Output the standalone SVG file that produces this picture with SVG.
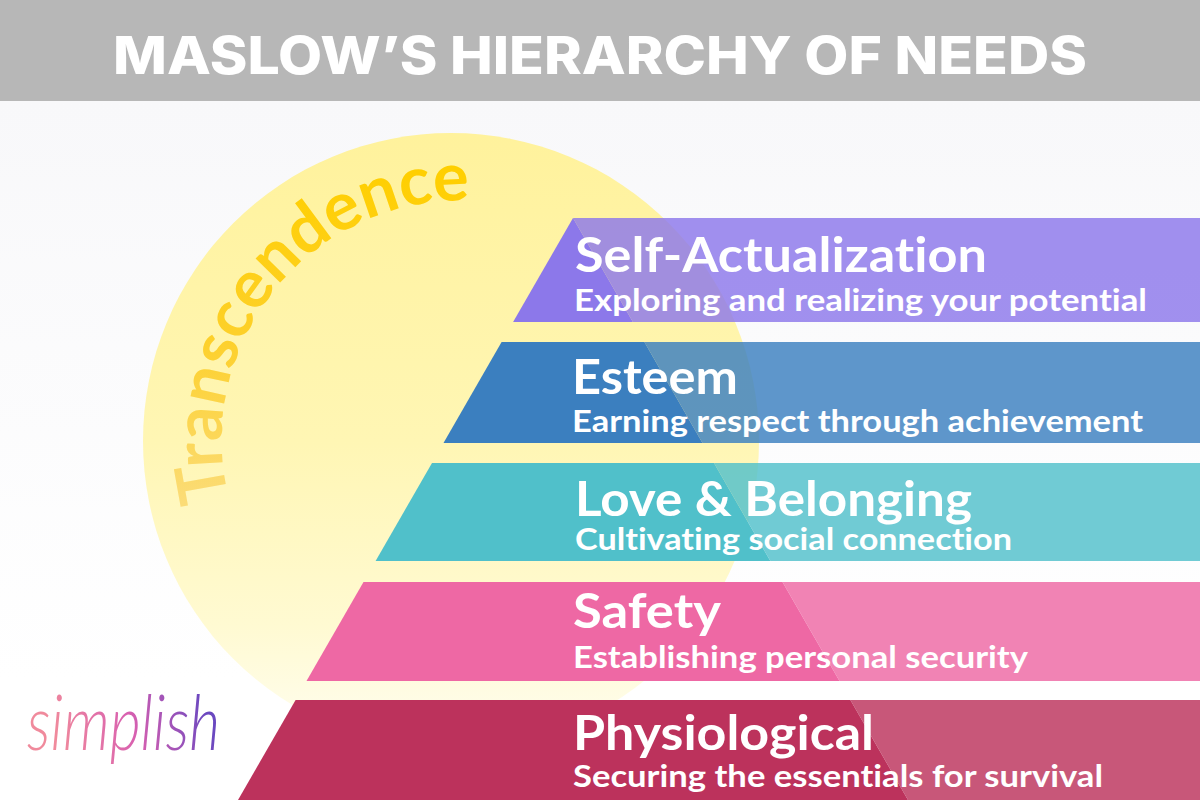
<svg xmlns="http://www.w3.org/2000/svg" xmlns:xlink="http://www.w3.org/1999/xlink" width="1200" height="800" viewBox="0 0 1200 800">
<style>
text{font-variant-ligatures:none}
.h{font-family:"Lato","Noto Sans",sans-serif;font-weight:700;font-size:47px;fill:#fff}
.s{font-family:"Lato","Noto Sans",sans-serif;font-weight:700;font-size:30px;fill:#fff}
.l{opacity:.82}
</style>
<defs>
<linearGradient id="bg" x1="0" y1="101" x2="0" y2="680" gradientUnits="userSpaceOnUse"><stop offset="0" stop-color="#f8f8fa"/><stop offset="1" stop-color="#fff"/></linearGradient>
<linearGradient id="sun" x1="0" y1="133" x2="0" y2="749" gradientUnits="userSpaceOnUse"><stop offset="0" stop-color="#fff29c"/><stop offset=".5" stop-color="#fff6b4"/><stop offset=".8" stop-color="#fffad2"/><stop offset="1" stop-color="#fffef2"/></linearGradient>
<linearGradient id="tr" x1="0" y1="170" x2="0" y2="505" gradientUnits="userSpaceOnUse"><stop offset="0" stop-color="#ffcf00"/><stop offset=".5" stop-color="#fdd02a"/><stop offset="1" stop-color="#fbdc78"/></linearGradient>
<linearGradient id="logo" x1="60" y1="600" x2="200" y2="550" gradientUnits="userSpaceOnUse"><stop offset="0" stop-color="#f08a9c"/><stop offset=".5" stop-color="#d860b0"/><stop offset="1" stop-color="#6a48c0"/></linearGradient>
<path id="arc" d="M229 499A240 240 0 0 1 490 202"/>
</defs>
<rect id="background" width="1200" height="800" fill="url(#bg)"/>
<g id="header"><rect width="1200" height="101" fill="#b7b7b7"/>
<text x="600" y="74" text-anchor="middle" textLength="974" lengthAdjust="spacingAndGlyphs" font-family="Inter,'Liberation Sans',sans-serif" font-weight="800" font-size="52" fill="#fff">MASLOW’S HIERARCHY OF NEEDS</text></g>
<g id="transcendence"><circle cx="451" cy="441" r="308" fill="url(#sun)"/>
<text font-family="Lato,'Noto Sans',sans-serif" font-weight="700" font-size="67" fill="url(#tr)"><textPath href="#arc" xlink:href="#arc">Transcendence</textPath></text></g>
<g id="self-actualization">
<polygon class="l" points="573,218 1200,218 1200,322 632.900,322" fill="#8c78ea"/><polygon points="573,218 632.900,322 513.100,322" fill="#8c78ea"/>
<text class="h" x="575" y="272" textLength="412" lengthAdjust="spacingAndGlyphs">Self-Actualization</text>
<text class="s" x="574" y="311" textLength="573" lengthAdjust="spacingAndGlyphs">Exploring and realizing your potential</text></g>
<g id="esteem">
<polygon class="l" points="501.600,342 1200,342 1200,443 702.500,443 644.400,342" fill="#3b7fbf"/><polygon points="501.600,342 644.400,342 702.500,443 443.500,443" fill="#3b7fbf"/>
<text class="h" x="572" y="394" textLength="166" lengthAdjust="spacingAndGlyphs">Esteem</text>
<text class="s" x="572" y="432" textLength="571" lengthAdjust="spacingAndGlyphs">Earning respect through achievement</text></g>
<g id="love-belonging">
<polygon class="l" points="714,463 1200,463 1200,561 770.400,561" fill="#50c0ca"/><polygon points="432,463 714,463 770.400,561 375.600,561" fill="#50c0ca"/>
<text class="h" x="575" y="516" textLength="397" lengthAdjust="spacingAndGlyphs">Love &amp; Belonging</text>
<text class="s" x="575" y="550" textLength="437" lengthAdjust="spacingAndGlyphs">Cultivating social connection</text></g>
<g id="safety">
<polygon class="l" points="782.500,582 1200,582 1200,681 839.500,681" fill="#ee68a4"/><polygon points="363.500,582 782.500,582 839.500,681 306.500,681" fill="#ee68a4"/>
<text class="h" x="573" y="628" textLength="148" lengthAdjust="spacingAndGlyphs">Safety</text>
<text class="s" x="573" y="668" textLength="455" lengthAdjust="spacingAndGlyphs">Establishing personal security</text></g>
<g id="physiological">
<polygon class="l" points="850.400,700 1200,700 1200,800 908,800" fill="#bc325c"/><polygon points="295.600,700 850.400,700 908,800 238,800" fill="#bc325c"/>
<text class="h" x="573" y="750" textLength="301" lengthAdjust="spacingAndGlyphs">Physiological</text>
<text class="s" x="573" y="787" textLength="530" lengthAdjust="spacingAndGlyphs">Securing the essentials for survival</text></g>
<g id="logo-mark"><text transform="scale(1 1.25)" x="27" y="600" textLength="193" lengthAdjust="spacingAndGlyphs" font-family="Lato,sans-serif" font-style="italic" font-weight="300" font-size="62" fill="url(#logo)">simplish</text></g>
</svg>
